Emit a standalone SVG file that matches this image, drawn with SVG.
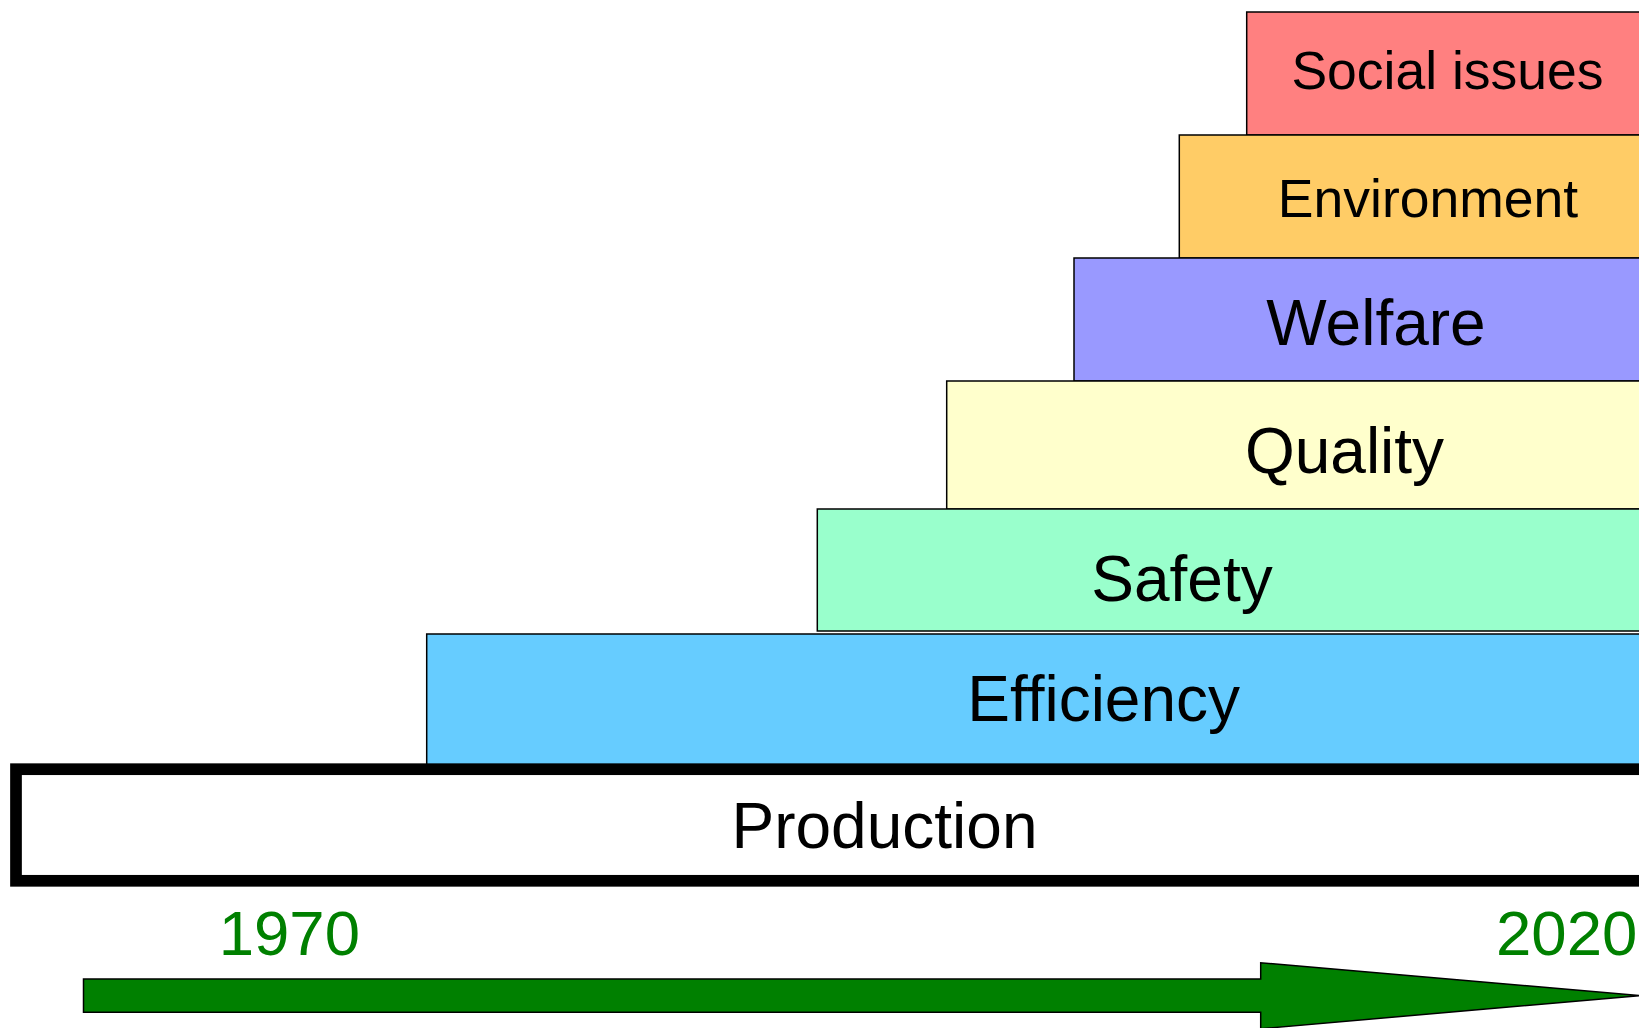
<svg xmlns="http://www.w3.org/2000/svg" width="1639" height="1028" viewBox="0 0 1639 1028">
  <style>
    .layer { stroke: #000; stroke-width: 1.5; }
    .lbl { font-family: "Liberation Sans", Arial, sans-serif; fill: #000; text-anchor: middle; }
    .big { font-size: 64px; }
    .small { font-size: 53.5px; }
    .year { font-family: "Liberation Sans", Arial, sans-serif; font-size: 63.5px; fill: #008000; }
  </style>
  <rect width="1639" height="1028" fill="#fff"/>

  <!-- stacked layers, newest on top; all run past the right edge -->
  <g id="social-issues">
    <rect class="layer" x="1246.7" y="12" width="500" height="123" fill="#FF8080"/>
    <text class="lbl small" x="1447.5" y="89.3">Social issues</text>
  </g>
  <g id="environment">
    <rect class="layer" x="1179.3" y="135" width="560" height="123" fill="#FFCC66"/>
    <text class="lbl small" x="1428" y="217.3">Environment</text>
  </g>
  <g id="welfare">
    <rect class="layer" x="1074" y="258" width="660" height="123" fill="#9999FF"/>
    <text class="lbl big" x="1376" y="345">Welfare</text>
  </g>
  <g id="quality">
    <rect class="layer" x="946.7" y="381" width="800" height="128" fill="#FFFFCC"/>
    <text class="lbl big" x="1344.5" y="473.3">Quality</text>
  </g>
  <g id="safety">
    <rect class="layer" x="817.3" y="509" width="900" height="122" fill="#99FFCC"/>
    <text class="lbl big" x="1182" y="600.7">Safety</text>
  </g>
  <g id="efficiency">
    <rect class="layer" x="426.7" y="634" width="1300" height="135" fill="#66CCFF"/>
    <text class="lbl big" x="1103.7" y="720.7">Efficiency</text>
  </g>
  <g id="production">
    <rect x="16" y="769.2" width="1700" height="111.6" fill="#fff" stroke="#000" stroke-width="11.7"/>
    <text class="lbl big" x="884.5" y="848.3">Production</text>
  </g>

  <!-- time axis -->
  <g id="connectors">
    <polygon id="timeline-arrow" points="83.5,979 1260.7,979 1260.7,962.7 1640,995.6 1260.7,1028.7 1260.7,1012.3 83.5,1012.3"
             fill="#008000" stroke="#000" stroke-width="1.5"/>
  </g>
  <g id="years">
    <text class="year" x="218.7" y="955">1970</text>
    <text class="year" x="1496" y="954.5">2020</text>
  </g>
</svg>
